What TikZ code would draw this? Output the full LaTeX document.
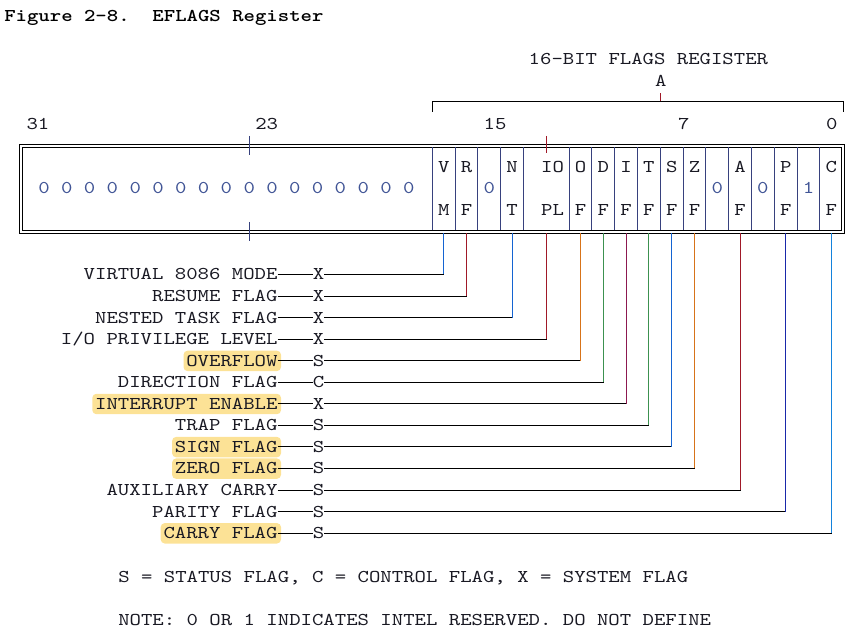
\documentclass[tikz,border=0pt]{standalone}
\usepackage{fontspec}
\usetikzlibrary{backgrounds}
\newfontfamily\monofnt{lmmono10-regular.otf}[FakeStretch=1.2063]
\newfontfamily\monobold{lmmonolt10-bold.otf}[FakeStretch=1.2063]
\definecolor{ink}{RGB}{25,25,35}
\definecolor{zc}{RGB}{65,85,150}
\definecolor{hlc}{RGB}{252,226,150}
\definecolor{divc}{RGB}{55,65,125}
\definecolor{cblue}{RGB}{20,100,210}
\definecolor{cred}{RGB}{160,25,40}
\definecolor{corange}{RGB}{215,115,25}
\definecolor{cgreen}{RGB}{60,145,80}
\definecolor{cpurple}{RGB}{140,25,80}
\definecolor{cnavy}{RGB}{25,40,170}
\definecolor{ccyan}{RGB}{20,130,220}
\tikzset{
  txt/.style={font=\monofnt\fontsize{18}{20}\selectfont\frenchspacing, text=ink,
    inner sep=0pt, text height=11pt, text depth=0pt},
  ttl/.style={font=\monobold\fontsize{18}{20}\selectfont\frenchspacing, text=black,
    inner sep=0pt, text height=11pt, text depth=0pt},
  hline/.style={line width=0.9pt, draw=black},
  vline/.style={line width=1.3pt},
  framel/.style={line width=0.9pt, draw=black},
  divider/.style={line width=1pt, draw=divc},
}
\newcommand\flagrow[7]{%
  \pgfmathsetmacro\by{280+21.55*#1}%
  \node[txt,anchor=base east] (l#2) at (277.7,\by) {#3};
  \ifnum#7=1
    \begin{scope}[on background layer]
      \fill[hlc,rounded corners=4pt] ([xshift=-2.6pt,yshift=4.3pt]l#2.north west) rectangle ([xshift=3.3pt,yshift=-4.7pt]l#2.south east);
    \end{scope}
  \fi
  \node[txt,anchor=base west] (f#2) at (312.6,\by) {#4};
  \coordinate (b#2) at (#5,233.3);
  \draw[hline] (l#2.east) -- (f#2.west);
  \draw[hline] (f#2.east) -- (f#2.east -| b#2);
  \draw[vline,draw=#6] (f#2.east -| b#2) -- (b#2);
}
\begin{document}
\begin{tikzpicture}[x=1pt,y=-1pt]
\useasboundingbox (0,0) rectangle (855,636);

% title and headings
\node[ttl,anchor=base west] (title) at (4.1,22) {Figure 2-8.~ EFLAGS Register};
\node[txt,anchor=base west] (hdr) at (528.5,65) {16-BIT FLAGS REGISTER};
\node[txt,anchor=base] (hdrA) at (660.7,86.5) {A};

% bracket of the 16-bit register
\coordinate (brL) at (432.5,111.7);
\coordinate (brR) at (843.5,111.7);
\coordinate (brM) at (660.5,101.5);
\draw[framel] (brL) -- (432.5,101.5) -- (843.5,101.5) -- (brR);
\draw[line width=1.2pt,draw=cred] (brM) -- (660.5,93.3);

% bit numbers
\node[txt,anchor=base] (n31) at (38,129.5) {31};
\node[txt,anchor=base] (n23) at (266.7,129.5) {23};
\node[txt,anchor=base] (n15) at (495,129.5) {15};
\node[txt,anchor=base] (n7) at (683.7,129.5) {7};
\node[txt,anchor=base] (n0) at (831.7,129.5) {0};

% register frame (double line)
\draw[framel] (19.5,144.5) rectangle (844.5,233.5);
\draw[framel] (22.5,147.5) rectangle (841.5,230.5);
\draw[line width=1.2pt,draw=divc] (249.5,136) -- (249.5,155);
\draw[line width=1.2pt,draw=divc] (249.5,222) -- (249.5,241);
\draw[line width=1.2pt,draw=cred] (546.5,136) -- (546.5,153);

% cell dividers
\foreach \j in {0,1,2,3,4,6,7,8,9,10,11,12,13,14,15,16,17}
  \draw[divider] ({floor(432.3+22.8*\j)+0.5},147.5) -- ({floor(432.3+22.8*\j)+0.5},230.5);

% reserved upper bits
\foreach \i in {0,...,16}
  \node[txt,anchor=base,text=zc] (z\i) at ({44+22.8*\i},194) {0};

% cell contents
\foreach \k/\t/\b in {17/V/M,16/R/F,14/N/T,11/O/F,10/D/F,9/I/F,8/T/F,7/S/F,6/Z/F,4/A/F,2/P/F,0/C/F} {
  \pgfmathsetmacro\cx{443.7+(17-\k)*22.8}
  \node[txt,anchor=base] (top\k) at (\cx,172.5) {\t};
  \node[txt,anchor=base] (bot\k) at (\cx,215.5) {\b};
}
\node[txt,anchor=base] (topIO) at (552.5,172.5) {IO};
\node[txt,anchor=base] (botIO) at (552.5,215.5) {PL};
\foreach \k/\t in {15/0,5/0,3/0,1/1} {
  \pgfmathsetmacro\cx{443.7+(17-\k)*22.8}
  \node[txt,anchor=base,text=zc] (mid\k) at (\cx,194) {\t};
}

% flag descriptions and connectors
\flagrow{0}{VM}{VIRTUAL 8086 MODE}{X}{443.5}{cblue}{0}
\flagrow{1}{RF}{RESUME FLAG}{X}{466.5}{cred}{0}
\flagrow{2}{NT}{NESTED TASK FLAG}{X}{512.5}{cblue}{0}
\flagrow{3}{IOPL}{I/O PRIVILEGE LEVEL}{X}{546.5}{cred}{0}
\flagrow{4}{OF}{OVERFLOW}{S}{580.5}{corange}{1}
\flagrow{5}{DF}{DIRECTION FLAG}{C}{603.5}{cgreen}{0}
\flagrow{6}{IF}{INTERRUPT ENABLE}{X}{626.5}{cpurple}{1}
\flagrow{7}{TF}{TRAP FLAG}{S}{648.5}{cgreen}{0}
\flagrow{8}{SF}{SIGN FLAG}{S}{671.5}{cblue}{1}
\flagrow{9}{ZF}{ZERO FLAG}{S}{694.5}{corange}{1}
\flagrow{10}{AF}{AUXILIARY CARRY}{S}{740.5}{cred}{0}
\flagrow{11}{PF}{PARITY FLAG}{S}{785.5}{cnavy}{0}
\flagrow{12}{CF}{CARRY FLAG}{S}{831.5}{ccyan}{1}

% notes
\node[txt,anchor=base west] (legend) at (118.1,582) {S = STATUS FLAG, C = CONTROL FLAG, X = SYSTEM FLAG};
\node[txt,anchor=base west] (note) at (118.1,625) {NOTE: 0 OR 1 INDICATES INTEL RESERVED. DO NOT DEFINE};
\end{tikzpicture}
\end{document}
